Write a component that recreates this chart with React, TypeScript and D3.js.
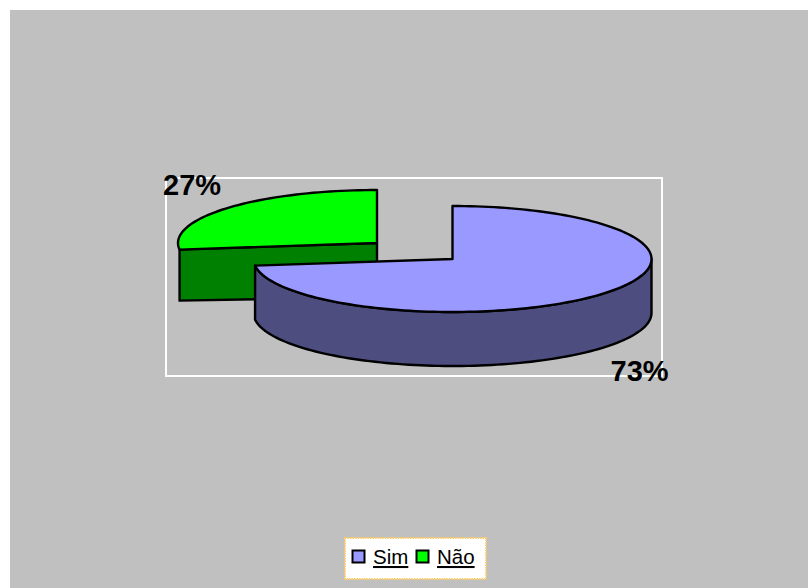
import React from "react";
import * as d3 from "d3";

const categories = ["Sim", "Não"];
const shares = [73, 27];
const sliceLabels = ["73%", "27%"];
const topColors = ["#9999ff", "#00ff00"];
const sideColors = ["#4d4d80", "#008000"];

const WIDTH = 808;
const HEIGHT = 588;
const RX = 199;
const RY = 53;
const DEPTH = 54;

// Each slice is its own ellipse: the small slice is pulled out to the upper left.
const centers = [
  { x: 452.5, y: 259 },
  { x: 377, y: 243 },
];

const arcs = d3
  .pie<number>()
  .sort(null)
  .value((d) => d)(shares);

const xUnit = d3.scaleLinear().domain([-1, 1]).range([-RX, RX]);
const yUnit = d3.scaleLinear().domain([-1, 1]).range([-RY, RY]);
const line = d3.line<[number, number]>();

function rimPoints(i: number, a0: number, a1: number, drop = 0): [number, number][] {
  const c = centers[i];
  const steps = Math.max(2, Math.ceil(Math.abs(a1 - a0) / 0.03));
  return d3.range(steps + 1).map((k) => {
    const a = a0 + ((a1 - a0) * k) / steps;
    return [c.x + xUnit(Math.sin(a)), c.y + yUnit(-Math.cos(a)) + drop];
  });
}

function topPath(i: number) {
  const c = centers[i];
  const pts = rimPoints(i, arcs[i].startAngle, arcs[i].endAngle);
  return line([[c.x, c.y], ...pts]) + "Z";
}

export default function App() {
  const blue = arcs[0];
  const green = arcs[1];
  const gc = centers[1];
  const greenRim = rimPoints(1, green.startAngle, green.startAngle)[0];
  // Rounded front wall of the large slice, from its right extreme to the cut.
  const blueFront = [
    ...rimPoints(0, Math.PI / 2, blue.endAngle),
    ...rimPoints(0, blue.endAngle, Math.PI / 2, DEPTH),
  ];
  // Flat cut face of the pulled-out slice.
  const greenFace: [number, number][] = [
    [greenRim[0], greenRim[1]],
    [gc.x, gc.y],
    [gc.x, gc.y + DEPTH],
    [greenRim[0], greenRim[1] + DEPTH - 3],
  ];

  return (
    <svg
      width={WIDTH}
      height={HEIGHT}
      viewBox={`0 0 ${WIDTH} ${HEIGHT}`}
      style={{ position: "absolute", left: 0, top: 0, background: "#ffffff" }}
      fontFamily="'Liberation Sans', Arial, sans-serif"
    >
      <rect x={10} y={10} width={WIDTH - 10} height={HEIGHT - 10} fill="#c0c0c0" />
      <rect x={166} y={178} width={496} height={198} fill="none" stroke="#ffffff" strokeWidth={2} />

      <g stroke="#000000" strokeWidth={2.4} strokeLinejoin="round">
        <path d={line(greenFace) + "Z"} fill={sideColors[1]} />
        <path d={topPath(1)} fill={topColors[1]} />
        <path d={line(blueFront) + "Z"} fill={sideColors[0]} />
        <path d={topPath(0)} fill={topColors[0]} />
      </g>

      <g fontSize={29} fontWeight="bold" fill="#000000">
        <text x={610.5} y={381}>{sliceLabels[0]}</text>
        <text x={163} y={195}>{sliceLabels[1]}</text>
      </g>

      <rect
        x={345}
        y={538}
        width={141}
        height={41}
        fill="#ffffff"
        stroke="#ffcc66"
        strokeWidth={2}
        strokeDasharray="1.5 1"
      />
      {categories.map((name, i) => {
        const swatchX = [352.5, 416.5][i];
        const labelX = [373, 437][i];
        return (
          <g key={name}>
            <rect x={swatchX} y={550.5} width={12} height={12} fill={topColors[i]} stroke="#000000" strokeWidth={2} />
            <text x={labelX} y={564} fontSize={20.5} textDecoration="underline" fill="#000000">
              {name}
            </text>
          </g>
        );
      })}
    </svg>
  );
}
